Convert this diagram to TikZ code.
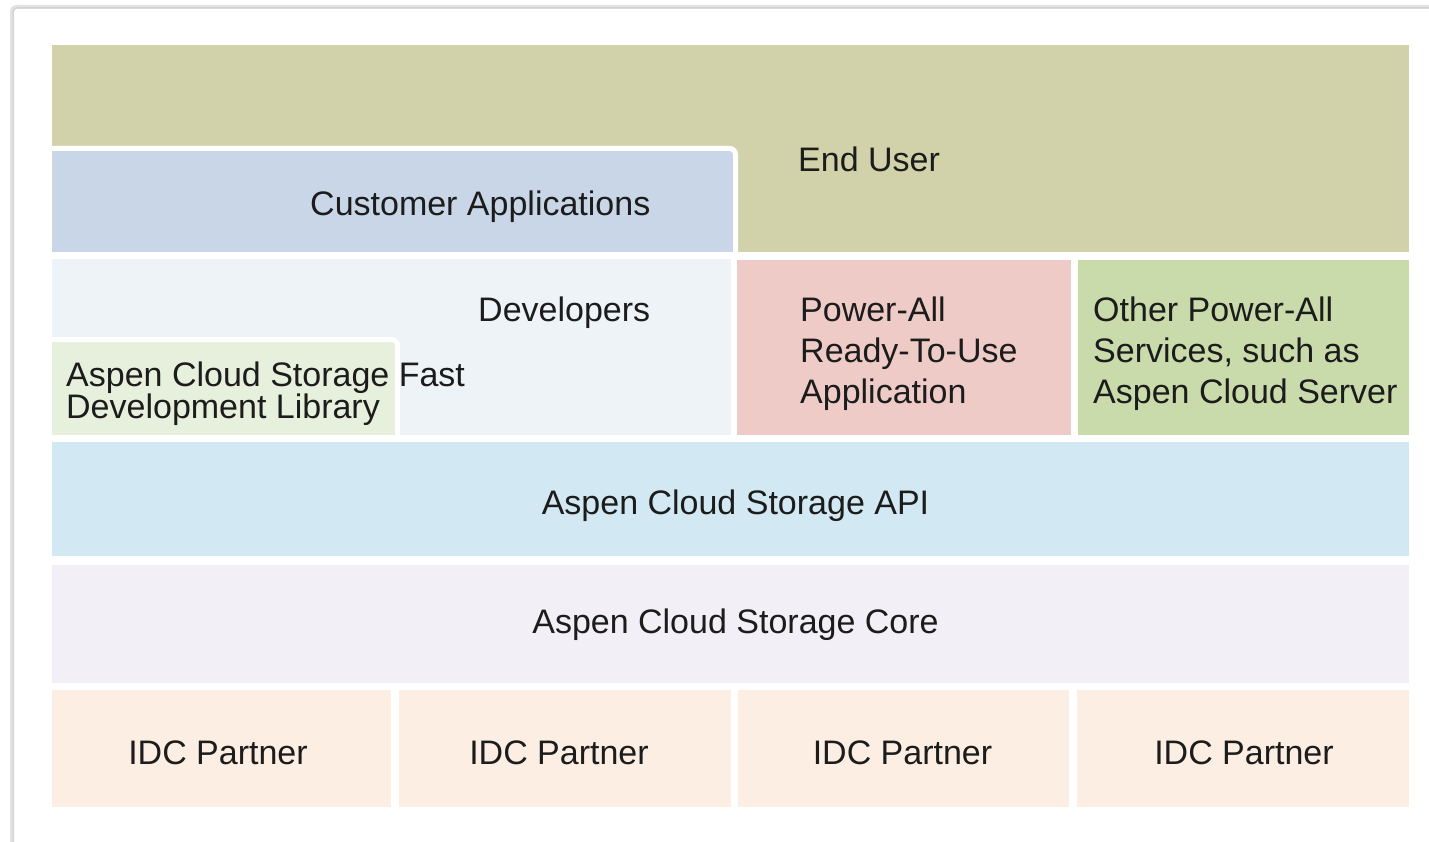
\documentclass[tikz,border=0pt]{standalone}
\usepackage{fontspec}
\setmainfont{Liberation Sans}
\definecolor{olive}{HTML}{D1D2AA}
\definecolor{custblue}{HTML}{C9D6E7}
\definecolor{devblue}{HTML}{EEF3F8}
\definecolor{libgreen}{HTML}{E6F0DC}
\definecolor{powpink}{HTML}{EECBC6}
\definecolor{othgreen}{HTML}{C9DAAB}
\definecolor{apiblue}{HTML}{D2E8F2}
\definecolor{corelav}{HTML}{F2EFF6}
\definecolor{idcpeach}{HTML}{FCEEE3}
\definecolor{txt}{HTML}{1C1C1C}
\definecolor{frame}{HTML}{E2E2E2}
\tikzset{
  lbl/.style={inner sep=0pt, text=txt, font=\fontsize{34}{41}\selectfont, align=left},
  lbltight/.style={inner sep=0pt, text=txt, font=\fontsize{34}{32}\selectfont, align=left},
  whiteedge/.style={draw=white, line width=5pt, rounded corners=6pt},
}
\begin{document}
\begin{tikzpicture}[x=1pt,y=-1pt]
\useasboundingbox (0,0) rectangle (1429,842);
\fill[white] (0,0) rectangle (1429,842);
% outer frame
\draw[frame, line width=4pt, rounded corners=4pt] (12,842) -- (12,7) -- (1429,7);
\draw[frame!80!gray, line width=1pt, rounded corners=4pt] (13,842) -- (13,8) -- (1429,8);
% End user
\fill[olive] (52,45) rectangle (1409,252);
% customer applications
\fill[custblue] (52,150) rectangle (733,252);
\draw[whiteedge] (50,148.5) -- (735.5,148.5) -- (735.5,254);
\fill[white] (52,252) rectangle (1409,259);
% developers
\fill[devblue] (52,259) rectangle (731,435);
\fill[libgreen] (52,341) rectangle (395,435);
\draw[whiteedge] (50,339.5) -- (397.5,339.5) -- (397.5,437);
% power-all
\fill[powpink] (737,260) rectangle (1071,435);
\fill[othgreen] (1078,260) rectangle (1409,435);
% API, core
\fill[apiblue] (52,442) rectangle (1409,556);
\fill[corelav] (52,565) rectangle (1409,683);
% IDC
\fill[idcpeach] (52,690) rectangle (391,807);
\fill[idcpeach] (399,690) rectangle (731,807);
\fill[idcpeach] (738,690) rectangle (1069,807);
\fill[idcpeach] (1077,690) rectangle (1409,807);
% texts
\node[lbl, anchor=base west] (enduser) at (798,172) {End User};
\node[lbl, anchor=base west] (custapp) at (310,216) {Customer Applications};
\node[lbl, anchor=base west] (dev) at (478,321) {Developers};
\node[lbltight, anchor=north west] (lib) at (66,362) {Aspen Cloud Storage Fast\\Development Library};
\node[lbl, anchor=north west] (power) at (800,297) {Power-All\\Ready-To-Use\\Application};
\node[lbl, anchor=north west] (other) at (1093,297) {Other Power-All\\Services, such as\\Aspen Cloud Server};
\node[lbl, anchor=base] (api) at (735.5,514) {Aspen Cloud Storage API};
\node[lbl, anchor=base] (core) at (735.5,633) {Aspen Cloud Storage Core};
\node[lbl, anchor=base] (idc1) at (218,764) {IDC Partner};
\node[lbl, anchor=base] (idc2) at (559,764) {IDC Partner};
\node[lbl, anchor=base] (idc3) at (902.5,764) {IDC Partner};
\node[lbl, anchor=base] (idc4) at (1244,764) {IDC Partner};
\end{tikzpicture}
\end{document}
